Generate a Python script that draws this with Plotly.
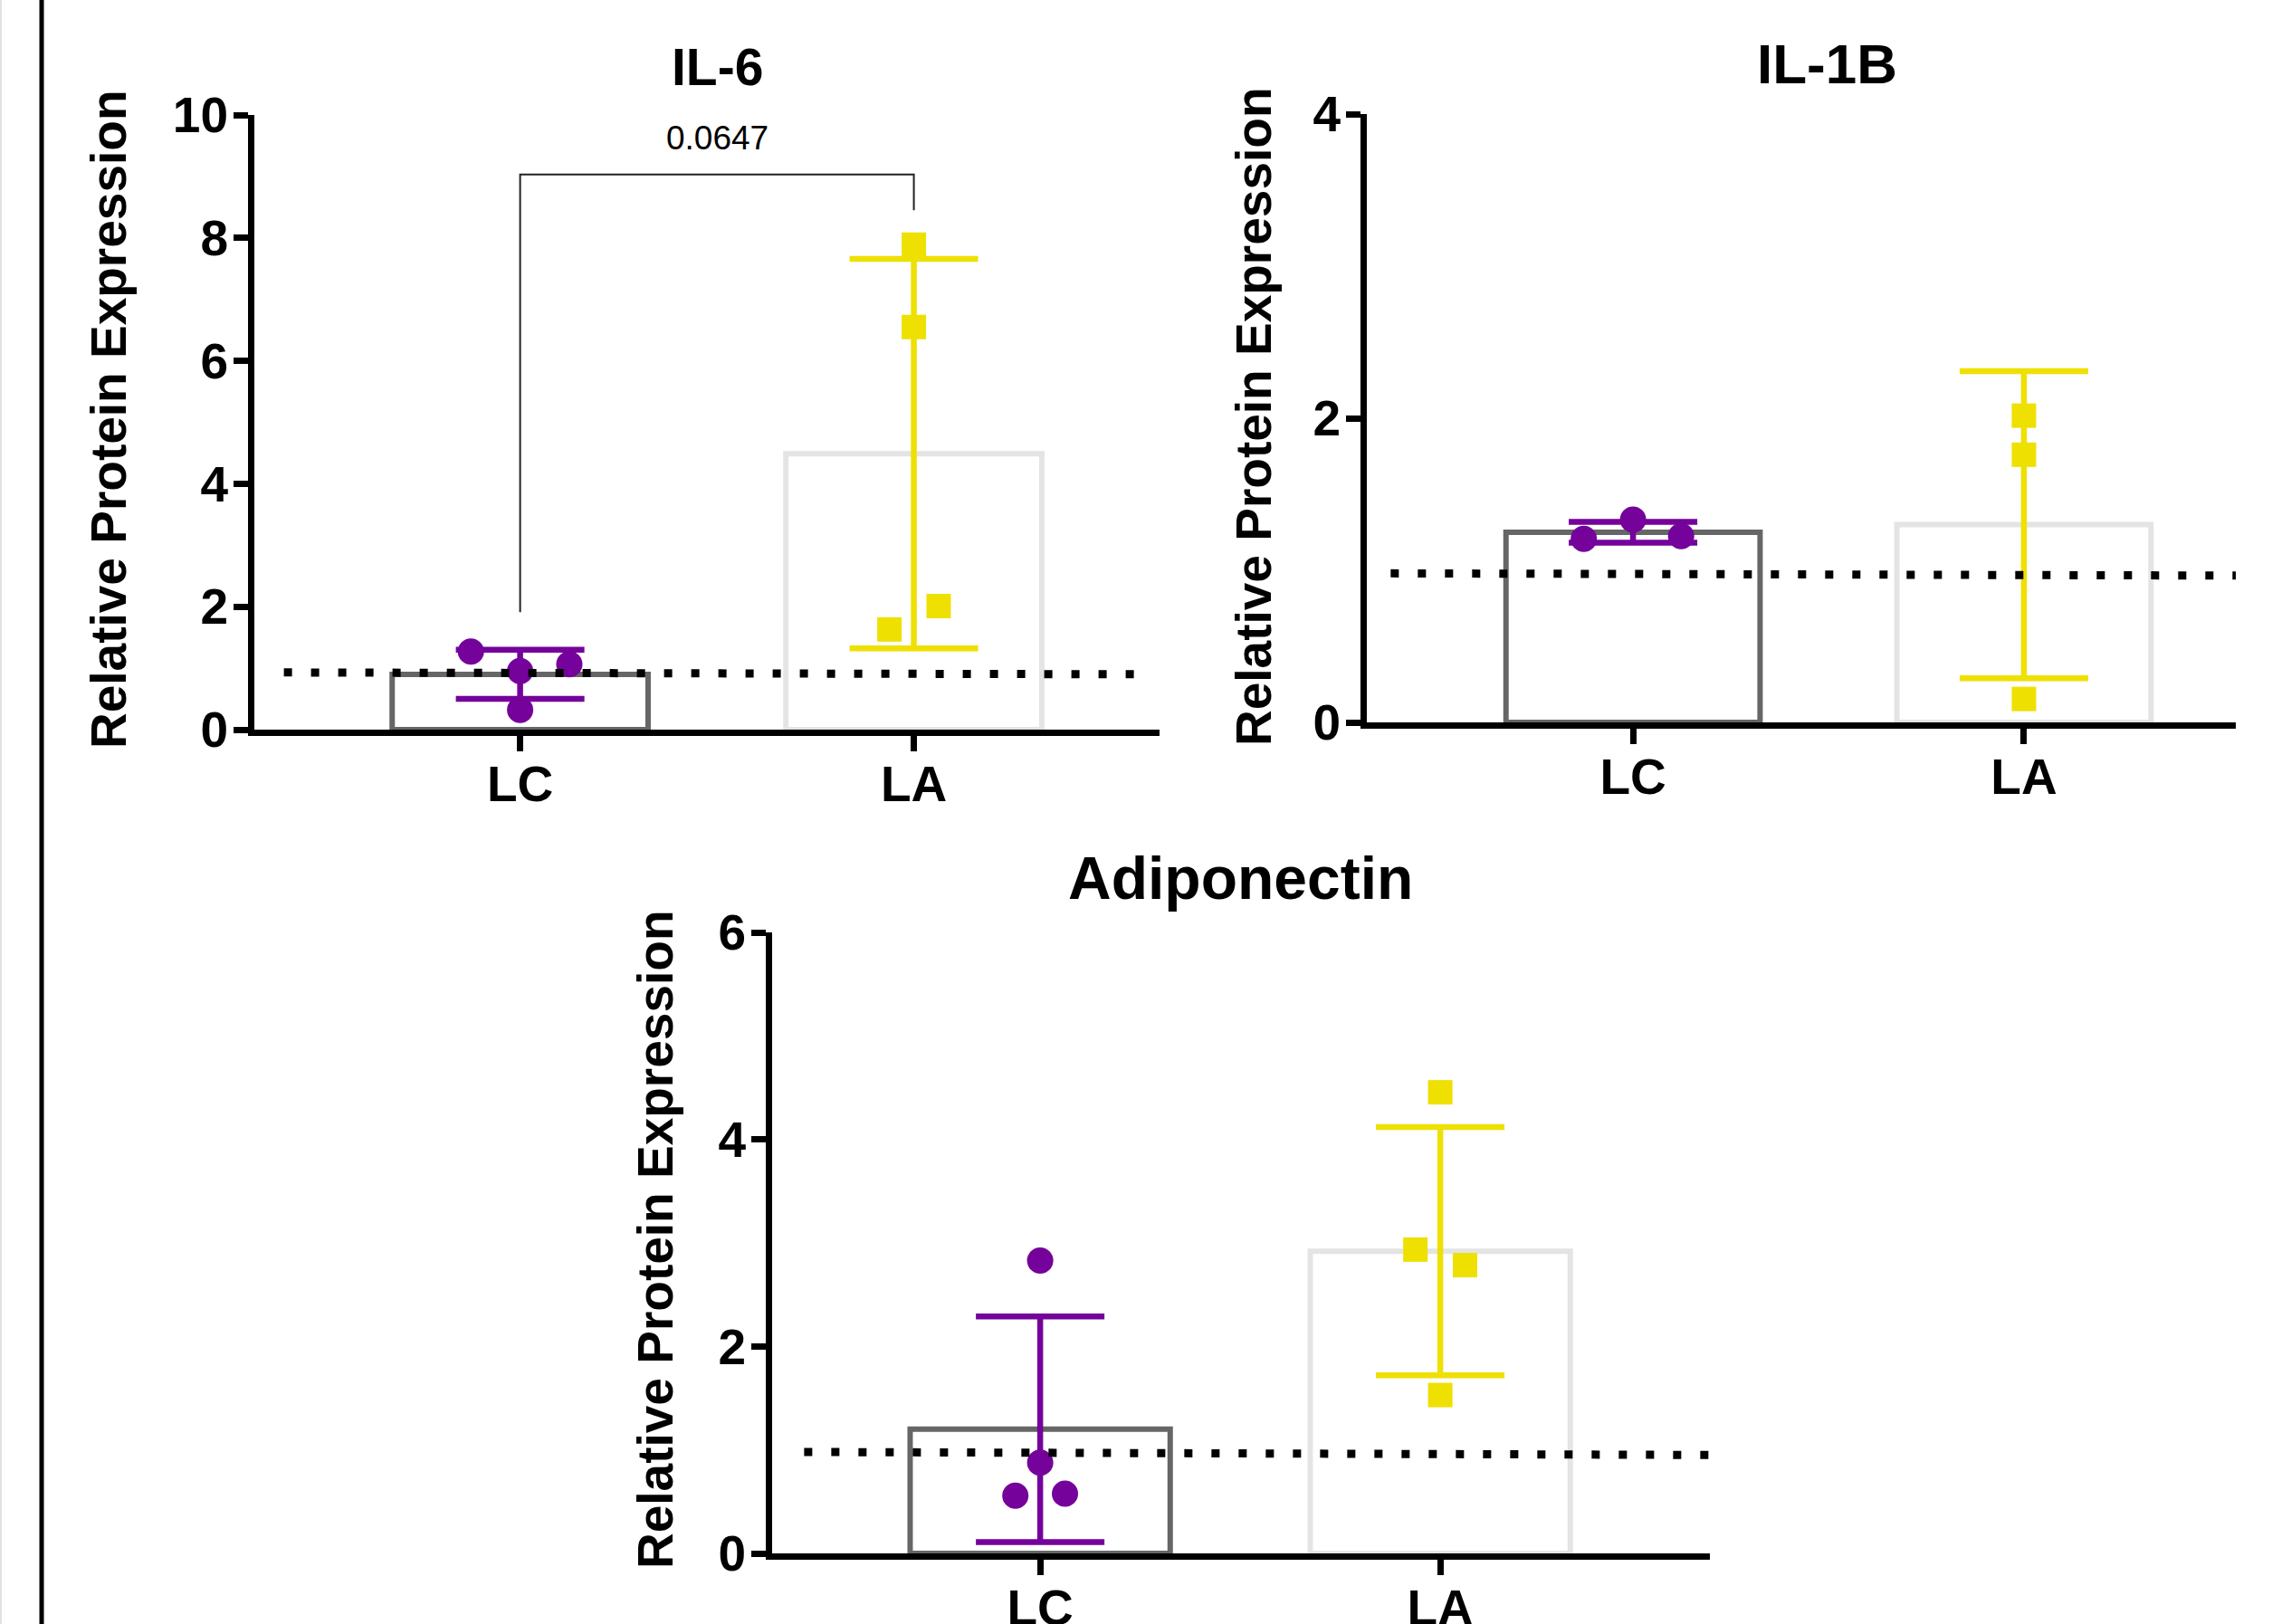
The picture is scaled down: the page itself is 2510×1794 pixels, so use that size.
import plotly.graph_objects as go

# ---------------- data ----------------
categories = ["LC", "LA"]
panel_titles = ["IL-6", "IL-1B", "Adiponectin"]
y_title = "Relative Protein Expression"

# IL-6
il6_lc_pts = [1.27, 0.955, 1.065, 0.32]
il6_lc_off = [-0.125, 0.0, 0.125, 0.0]
il6_la_pts = [7.89, 6.55, 2.01, 1.63]
il6_la_off = [0.0, 0.0, 0.063, -0.062]
il6_means = [0.90, 4.49]
il6_sd = [0.40, 3.17]
il6_ticks = [0, 2, 4, 6, 8, 10]

# IL-1B
il1b_lc_pts = [1.333, 1.207, 1.224]
il1b_lc_off = [0.0, -0.126, 0.123]
il1b_la_pts = [2.017, 1.76, 0.154]
il1b_la_off = [0.0, 0.0, 0.0]
il1b_means = [1.25, 1.30]
il1b_sd = [0.069, 1.01]
il1b_ticks = [0, 2, 4]

# Adiponectin
adipo_lc_pts = [2.83, 0.877, 0.558, 0.578]
adipo_lc_off = [0.0, 0.0, -0.062, 0.062]
adipo_la_pts = [4.455, 2.935, 2.785, 1.53]
adipo_la_off = [0.0, -0.062, 0.062, 0.0]
adipo_means = [1.20, 2.92]
adipo_sd = [1.09, 1.20]
adipo_ticks = [0, 2, 4, 6]

# dotted reference level (left, right) per panel
ref_levels = [(0.93, 0.90), (0.98, 0.965), (0.98, 0.95)]

# significance annotation (IL-6)
p_text = "0.0647"
bracket_top = 9.03
bracket_left_bottom = 1.91
bracket_right_bottom = 8.45
p_text_y = 9.63

# ---------------- style ----------------
W, H = 2510, 1794
PURPLE = "#75029B"
YELLOW = "#EEE000"
BAR_EDGES = ["#666666", "#E4E4E4"]
FONT = "Liberation Sans, Arial, sans-serif"

panels = [
    dict(lc=il6_lc_pts, lco=il6_lc_off, la=il6_la_pts, lao=il6_la_off,
         means=il6_means, sd=il6_sd, ticks=il6_ticks,
         xpix=(281, 1281), ypix=(806, 127), xr=(-0.675, 1.624),
         dots=(-0.6, 1.6), title_xy=(792, 74), tsize=57, ytitle_xy=(120, 463)),
    dict(lc=il1b_lc_pts, lco=il1b_lc_off, la=il1b_la_pts, lao=il1b_la_off,
         means=il1b_means, sd=il1b_sd, ticks=il1b_ticks,
         xpix=(1510, 2470), ypix=(798, 126), xr=(-0.681, 1.542),
         dots=(-0.62, 1.55), title_xy=(2018, 70), tsize=62, ytitle_xy=(1385, 460)),
    dict(lc=adipo_lc_pts, lco=adipo_lc_off, la=adipo_la_pts, lao=adipo_la_off,
         means=adipo_means, sd=adipo_sd, ticks=adipo_ticks,
         xpix=(853, 1889), ypix=(1716, 1030), xr=(-0.670, 1.674),
         dots=(-0.59, 1.73), title_xy=(1370, 970), tsize=66, ytitle_xy=(724, 1369)),
]

fig = go.Figure()
shapes = []
annotations = []

for i, p in enumerate(panels):
    sfx = "" if i == 0 else str(i + 1)
    xa, ya = "x" + sfx, "y" + sfx
    pos = list(range(len(categories)))

    # bars
    fig.add_trace(go.Bar(
        x=pos, y=p["means"], width=0.65, xaxis=xa, yaxis=ya,
        marker=dict(color="white", line=dict(color=BAR_EDGES, width=6)),
        showlegend=False, hoverinfo="skip"))

    # error bars + points per group
    for gi, (pts, offs, col, sym, msz) in enumerate([
            (p["lc"], p["lco"], PURPLE, "circle", 29),
            (p["la"], p["lao"], YELLOW, "square", 27)]):
        fig.add_trace(go.Scatter(
            x=[pos[gi]], y=[p["means"][gi]], mode="markers", xaxis=xa, yaxis=ya,
            marker=dict(size=1, opacity=0),
            error_y=dict(type="data", array=[p["sd"][gi]], visible=True,
                         color=col, thickness=6.5, width=71),
            showlegend=False, hoverinfo="skip"))
        fig.add_trace(go.Scatter(
            x=[pos[gi] + o for o in offs], y=pts, mode="markers",
            xaxis=xa, yaxis=ya,
            marker=dict(symbol=sym, size=msz, color=col, line=dict(width=0)),
            showlegend=False, hoverinfo="skip"))

    x0p, x1p = p["xpix"]
    y0p, y1p = p["ypix"]
    axis_common = dict(showgrid=False, zeroline=False, showline=True,
                       linecolor="black", linewidth=7, ticks="outside",
                       tickwidth=7, tickcolor="black", automargin=False,
                       tickfont=dict(family=FONT, size=55, color="black", weight="bold"))
    fig.update_layout(**{
        ("xaxis" + sfx): dict(domain=[x0p / W, x1p / W], range=list(p["xr"]),
                              anchor=ya, tickvals=pos, ticktext=categories,
                              ticklen=17, ticklabelstandoff=-11, **axis_common),
        ("yaxis" + sfx): dict(domain=[1 - y0p / H, 1 - y1p / H],
                              range=[0, p["ticks"][-1]], anchor=xa,
                              tickvals=p["ticks"], ticklen=16,
                              ticklabelstandoff=-5, **axis_common),
    })

    # dotted reference line
    shapes.append(dict(type="line", xref=xa, yref=ya, layer="above",
                       x0=p["dots"][0], x1=p["dots"][1],
                       y0=ref_levels[i][0], y1=ref_levels[i][1],
                       line=dict(color="black", width=9, dash="9px,21px")))

    # panel title
    annotations.append(dict(text=panel_titles[i], xref="paper", yref="paper",
                            x=p["title_xy"][0] / W, y=1 - p["title_xy"][1] / H,
                            xanchor="center", yanchor="middle", showarrow=False,
                            font=dict(family=FONT, size=p["tsize"], color="black",
                                      weight="bold")))
    # y-axis title
    annotations.append(dict(text=y_title, xref="paper", yref="paper",
                            x=p["ytitle_xy"][0] / W, y=1 - p["ytitle_xy"][1] / H,
                            xanchor="center", yanchor="middle", showarrow=False,
                            textangle=-90,
                            font=dict(family=FONT, size=55, color="black",
                                      weight="bold")))

# significance bracket on IL-6
shapes.append(dict(type="path", xref="x", yref="y", layer="above",
                   path=f"M 0,{bracket_left_bottom} L 0,{bracket_top} "
                        f"L 1,{bracket_top} L 1,{bracket_right_bottom}",
                   line=dict(color="#222222", width=2)))
annotations.append(dict(text=p_text, xref="x", yref="y", x=0.5, y=p_text_y,
                        xanchor="center", yanchor="middle", showarrow=False,
                        font=dict(family=FONT, size=37, color="black")))

# left border lines
shapes.append(dict(type="line", xref="paper", yref="paper", x0=46 / W, x1=46 / W,
                   y0=0, y1=1, line=dict(color="black", width=5)))
shapes.append(dict(type="line", xref="paper", yref="paper", x0=1 / W, x1=1 / W,
                   y0=0, y1=1, line=dict(color="#E2E2E2", width=2)))

fig.update_layout(
    width=W, height=H, margin=dict(l=0, r=0, t=0, b=0, autoexpand=False),
    paper_bgcolor="white", plot_bgcolor="rgba(0,0,0,0)",
    shapes=shapes, annotations=annotations, showlegend=False,
    barmode="overlay",
)

fig.write_html("out.html")
